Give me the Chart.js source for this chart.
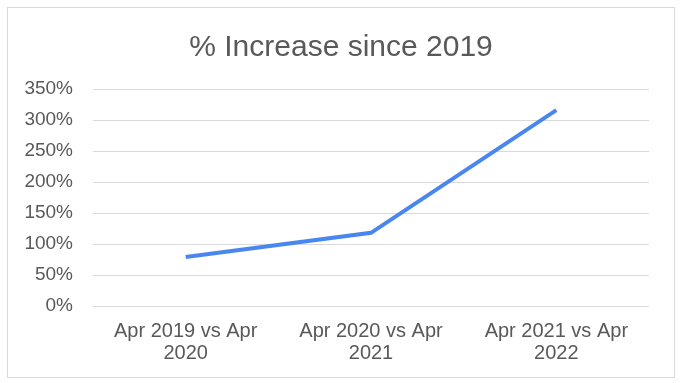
<!DOCTYPE html>
<html><head><meta charset="utf-8">
<script src="https://cdn.jsdelivr.net/npm/chart.js@4/dist/chart.umd.min.js"></script>
<style>
html,body{margin:0;padding:0;background:#fff;}
#box{position:absolute;left:7px;top:7px;width:668px;height:371px;border:1px solid #d9d9d9;box-sizing:border-box;}
canvas{display:block;}
</style></head><body>
<div id="box"><canvas id="c" width="666" height="369"></canvas></div>
<script>
const categories = [["Apr 2019 vs Apr","2020"],["Apr 2020 vs Apr","2021"],["Apr 2021 vs Apr","2022"]];
const increasePct = [79, 118, 316];
const yTicks = [0, 50, 100, 150, 200, 250, 300, 350];

const FONT = 'Liberation Sans, Arial, sans-serif';
new Chart(document.getElementById('c'), {
  type: 'line',
  data: {
    labels: categories,
    datasets: [{
      label: '% Increase since 2019',
      data: increasePct,
      borderColor: '#4a86f0',
      borderWidth: 4,
      pointRadius: 0,
      tension: 0,
      fill: false,
      yAxisID: 'y'
    }]
  },
  options: {
    responsive: false,
    animation: false,
    layout: { padding: 0 },
    plugins: {
      legend: { display: false },
      tooltip: { enabled: false },
      title: {
        display: true,
        text: '% Increase since 2019',
        color: '#595959',
        font: { family: FONT, size: 30, weight: 'normal' },
        padding: { top: 22, bottom: 23 }
      }
    },
    scales: {
      x: {
        offset: true,
        grid: { display: false, drawTicks: false },
        border: { display: false },
        afterFit: (axis) => { axis.height = 71; },
        ticks: {
          color: '#595959',
          font: { family: FONT, size: 20, lineHeight: 1.1 },
          maxRotation: 0,
          autoSkip: false,
          padding: 14
        }
      },
      y: {
        position: 'left',
        min: 0, max: 350,
        afterBuildTicks: (axis) => { axis.ticks = yTicks.map(v => ({ value: v })); },
        afterFit: (axis) => { axis.width = 85; },
        grid: { color: '#d9d9d9', lineWidth: 1, drawTicks: false },
        border: { display: false },
        ticks: {
          color: '#595959',
          font: { family: FONT, size: 19 },
          padding: 20,
          callback: (v) => v + '%'
        }
      },
      yRight: {
        position: 'right',
        display: true,
        min: 0, max: 1,
        afterFit: (axis) => { axis.width = 25; },
        grid: { display: false, drawTicks: false },
        border: { display: false },
        ticks: { display: false }
      }
    }
  }
});
</script>
</body></html>
